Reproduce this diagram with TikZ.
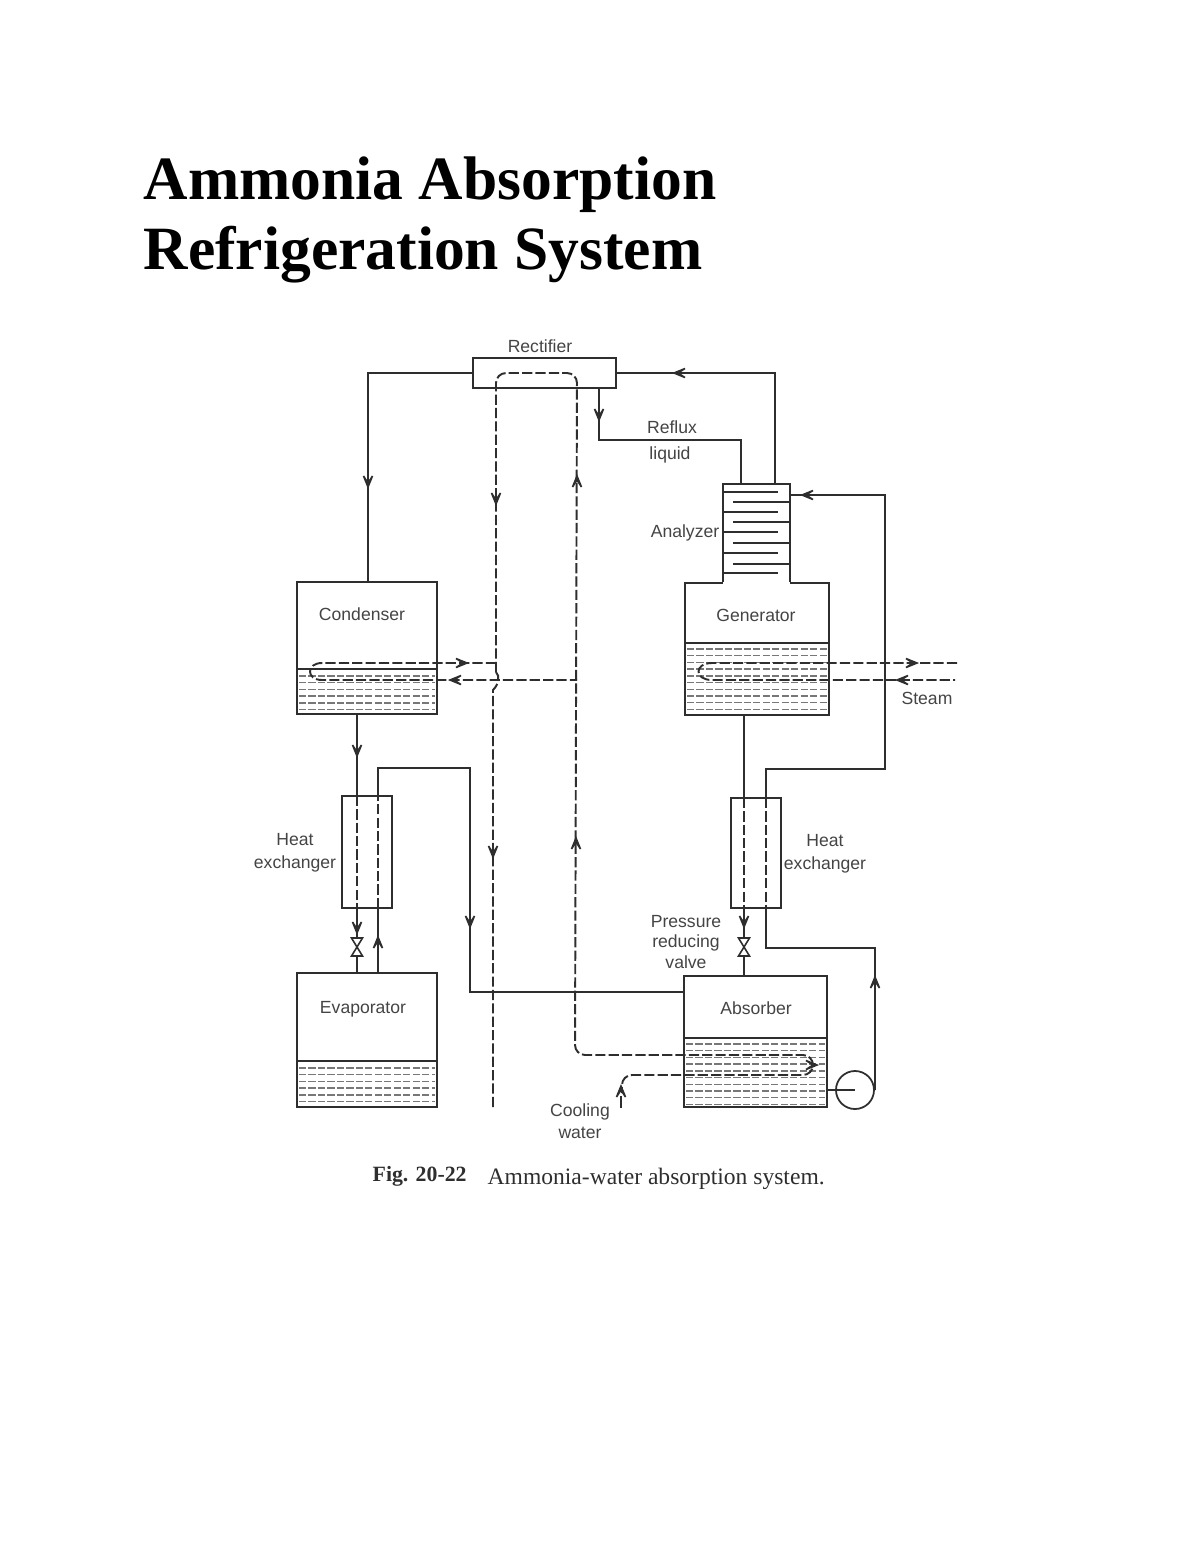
\documentclass[tikz,border=0pt]{standalone}
\usepackage{fontspec}
\setmainfont{Liberation Serif}
\setsansfont{Liberation Sans}
\usetikzlibrary{positioning}
\definecolor{ink}{HTML}{2E2E2E}
\definecolor{tagink}{HTML}{444444}
\tikzset{
	vessel/.style={draw=ink,line width=.5pt,inner sep=0pt},
	pipe/.style={draw=ink,line width=.5pt},
	water/.style={draw=ink,line width=.55pt,dash pattern=on 2.9pt off .9pt},
	film/.style={draw=ink!65,line width=.4pt,dash pattern=on 2pt off .7pt},
	tip/.style={draw=ink,line width=.45pt},
	tag/.style={font=\sffamily\fontsize{5}{5.6}\selectfont,text=tagink,align=center,inner sep=0pt}
}
\begin{document}
\begin{tikzpicture}[x=.01cm,y=-.01cm]
	\useasboundingbox (0,0) rectangle (1200,1553);
	\node[anchor=base west,inner sep=0pt,font=\bfseries\fontsize{17.5}{20}\selectfont] (title1) at (143,199) {Ammonia Absorption};
	\node[anchor=base west,inner sep=0pt,font=\bfseries\fontsize{17.5}{20}\selectfont] (title2) at (143,269) {Refrigeration System};

	\node[vessel,minimum width=1.43cm,minimum height=.30cm] (rectifier) at (544.5,373) {};
	\node[vessel,minimum width=1.40cm,minimum height=1.32cm] (condenser) at (367,648) {};
	\node[vessel,minimum width=1.44cm,minimum height=1.32cm] (generator) at (757,649) {};
	\node[vessel,minimum width=.67cm,minimum height=.99cm] (analyzer) at (756.5,533.5) {};
	\node[vessel,minimum width=1.40cm,minimum height=1.34cm] (evaporator) at (367,1040) {};
	\node[vessel,minimum width=1.43cm,minimum height=1.31cm] (absorber) at (755.5,1041.5) {};
	\node[vessel,minimum width=.50cm,minimum height=1.12cm] (leftexch) at (367,852) {};
	\node[vessel,minimum width=.50cm,minimum height=1.10cm] (rightexch) at (756,853) {};
	\node[vessel,circle,minimum size=.38cm] (pump) at (855,1090) {};
	\draw[white,line width=1pt] (analyzer.south west) ++(1,0) -- ([xshift=-.01cm]analyzer.south east);

	% liquid levels
	\foreach \xa/\xb/\ya in {297/437/669,685/829/643,297/437/1061,684/827/1038}
		\draw[pipe] (\xa,\ya) -- (\xb,\ya);
	\foreach \xa/\xb/\ya/\num in {297/437/676/5,685/829/649/9,297/437/1068/5,684/827/1044/9}
		\foreach \k in {0,...,\num}
			\draw[film] (\xa+2,\ya+6.7*\k) -- (\xb-2,\ya+6.7*\k);

	% analyzer plates
	\foreach \y in {492,512,532,553,573}
		\draw[pipe] (723,\y) -- (778,\y);
	\foreach \y in {502,522,543,564}
		\draw[pipe] (733,\y) -- (790,\y);

	\foreach \n/\x/\y in {refluxa/599/440,refluxb/741/440,refluxc/741/484,vapora/775/373,vaporb/775/484,
		condin/368/582,condout/357/714,exchai/357/796,exchao/357/908,evapin/357/973,
		evapout/378/973,exchbi/378/908,exchbo/378/796,suctiona/378/768,suctionb/470/768,suctionc/470/992,
		richa/744/715,richi/744/798,richo/744/908,richc/744/976,
		poora/885/495,poorb/885/769,poorc/766/769,poori/766/798,pooro/766/908,poord/766/948,poore/875/948,
		wtop/496/373,etop/577/373,wdrop/496/672,whop/493/690,wend/493/1107,esplit/577/680,ebend/575/1055,
		coila/813/1055,coilb/813/1075,coilc/622/1075,coild/622/1093,coolin/621/1108,cooltip/621/1096,
		cja/496/663,cjb/322/663,cjc/322/680,
		sta/957/663,stb/712/663,stc/712/680,std/955/680}
		\coordinate (\n) at (\x,\y);

	% solid lines
	\draw[pipe] (rectifier.west) -| (condin);
	\draw[pipe] (rectifier.east) -| (vaporb);
	\draw[pipe] (rectifier.south -| refluxa) -- (refluxa) -- (refluxb) -- (refluxc);
	\draw[pipe,line width=.7pt] (condout) -- (exchai);
	\draw[water] (exchai) -- (exchao);
	\draw[pipe,line width=.7pt] (exchao) -- (evapin);
	\draw[pipe] (evapout) -- (exchbi);
	\draw[water] (exchbi) -- (exchbo);
	\draw[pipe] (exchbo) -- (suctiona) -- (suctionb) -- (suctionc) -- (suctionc -| absorber.west);
	\draw[pipe] (richa) -- (richi);
	\draw[water] (richi) -- (richo);
	\draw[pipe] (richo) -- (richc);
	\draw[pipe] (poora -| analyzer.east) -- (poora) -- (poorb) -- (poorc) -- (poori);
	\draw[water] (poori) -- (pooro);
	\draw[pipe] (pooro) -- (poord) -- (poore) -- (pump.east);
	\draw[pipe] (absorber.east |- pump) -- (pump.center);

	% water lines
	\draw[water] (wend) -- (whop) .. controls (499,684) and (500,676) .. (wdrop);
	\draw[water,rounded corners=.1cm] (wdrop) -- (wtop) -- (etop) -- (ebend) -- (coila) -- (coilb) -- (coilc) -- (coild);
	\draw[pipe] (cooltip) -- (coolin);
	\draw[water] (cja) -- (cjb) .. controls (306,663) and (306,680) .. (cjc) -- (esplit);
	\draw[water] (sta) -- (stb) .. controls (694,663) and (694,680) .. (stc) -- (std);

	% valves
	\foreach \x/\y/\n in {357/947/valvea,744/947/valveb}{
		\coordinate (\n) at (\x,\y);
		\draw[tip,fill=white] (\x-5.5,\y-9) -- (\x+5.5,\y-9) -- (\x-5.5,\y+9) -- (\x+5.5,\y+9) -- cycle;
	}

	% arrow heads
	\foreach \x/\y/\s in {368/487,599/420,357/756,357/933,470/927,496/504,493/857,744/927}
		\draw[tip,fill=ink!55] (\x-4.5,\y-11) -- (\x,\y) -- (\x+4.5,\y-11) -- (\x,\y-4) -- cycle;
	\foreach \x/\y in {378/937,577/476,576/838,875/977,621/1086}
		\draw[tip,fill=ink!55] (\x-4.5,\y+11) -- (\x,\y) -- (\x+4.5,\y+11) -- (\x,\y+4) -- cycle;
	\foreach \x/\y/\s in {674/373/-1,802/495/-1,467/663/1,917/663/1,450/680/-1,897/680/-1,817/1065/1}
		\draw[tip,fill=ink!55] (\x-11*\s,\y-4.5) -- (\x,\y) -- (\x-11*\s,\y+4.5) -- (\x-4*\s,\y) -- cycle;

	% labels
	\foreach \x/\y/\t [count=\n] in {540/346/Rectifier,672/427/Reflux,670/455/liquid,685/533/Analyzer,
		362/614/Condenser,756/615/Generator,927/698/Steam,295/853/{Heat\\[1pt]exchanger},825/854/{Heat\\[1pt]exchanger},
		686/942/{Pressure\\[.3pt]reducing\\[.3pt]valve},363/1009/Evaporator,756/1008/Absorber,580/1121/{Cooling\\[.8pt]water}}
		\node[tag] (L\n) at (\x,\y) {\t};

	\node[anchor=base west,inner sep=0pt,text=ink,font=\bfseries\fontsize{6.2}{7}\selectfont] (figno) at (372,1181) {Fig. 20-22};
	\node[anchor=base west,inner sep=0pt,text=ink,font=\fontsize{6.7}{8}\selectfont] (caption) at (487,1184) {Ammonia-water absorption system.};
\end{tikzpicture}
\end{document}
